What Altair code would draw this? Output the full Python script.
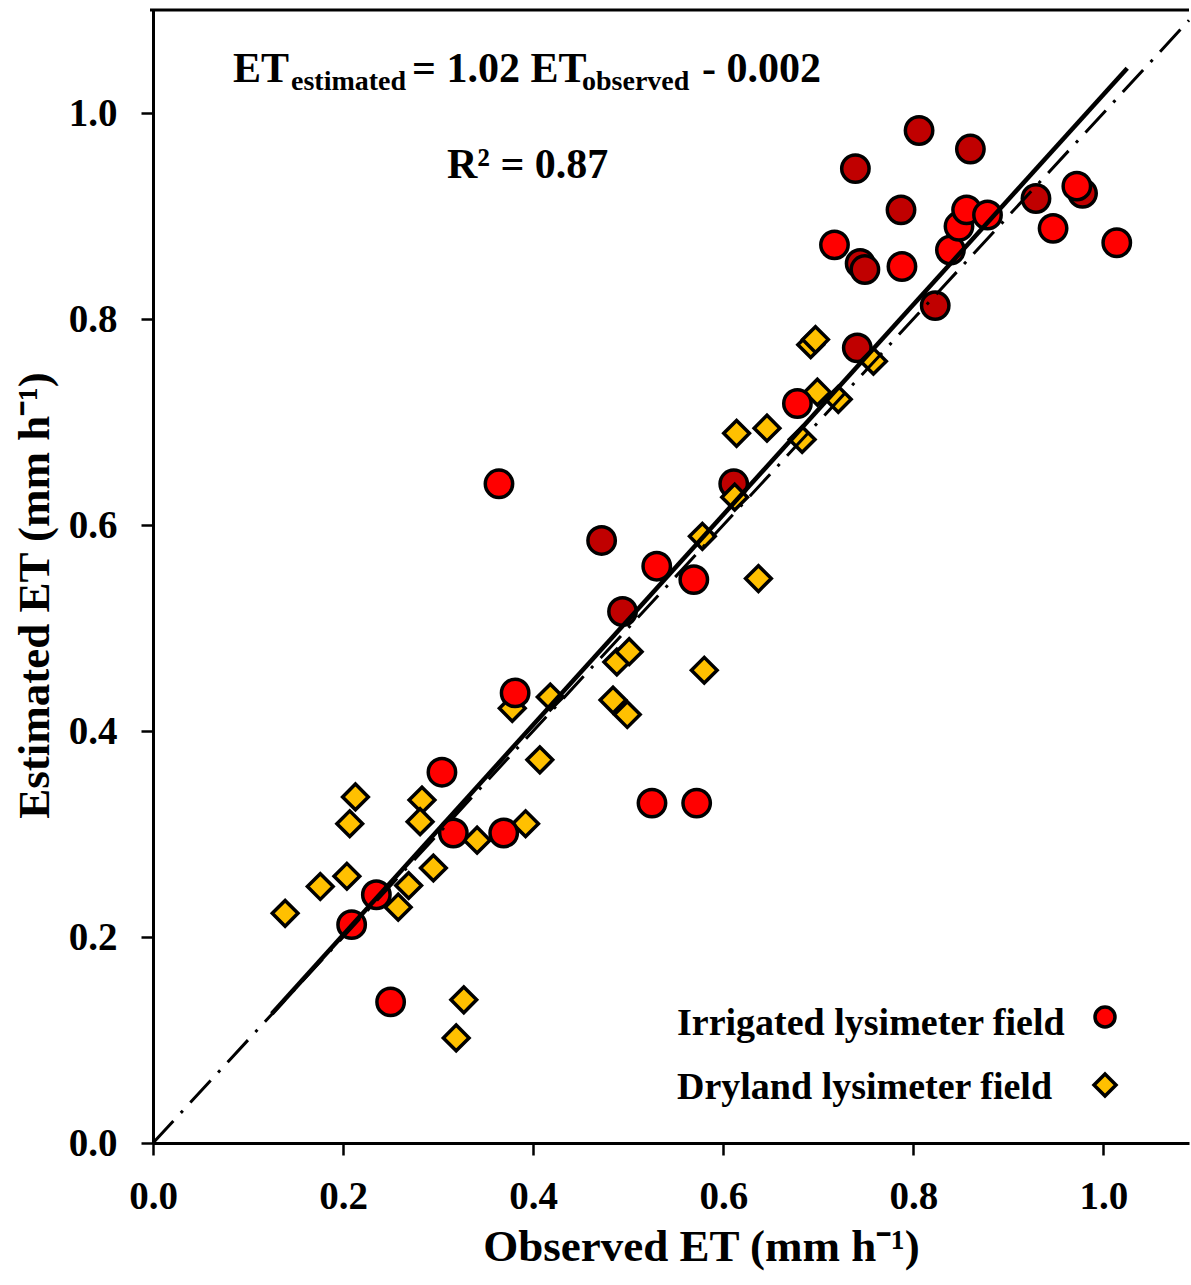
import altair as alt
import pandas as pd

# ---------------- data ----------------
irr_a_x = [0.364, 0.530, 0.569, 0.381, 0.304, 0.316, 0.369, 0.235, 0.209, 0.250, 0.525,
           0.572, 0.678, 0.717, 0.788, 0.839, 0.848, 0.856, 0.878, 0.947, 0.972, 1.014]
irr_a_y = [0.640, 0.560, 0.547, 0.437, 0.360, 0.301, 0.301, 0.241, 0.212, 0.137, 0.330,
           0.330, 0.718, 0.872, 0.851, 0.867, 0.890, 0.906, 0.901, 0.888, 0.929, 0.874]

irr_b_x = [0.472, 0.494, 0.611, 0.741, 0.823, 0.744, 0.749, 0.787, 0.739, 0.806, 0.860,
           0.929, 0.978]
irr_b_y = [0.585, 0.516, 0.640, 0.772, 0.813, 0.854, 0.848, 0.906, 0.946, 0.983, 0.965,
           0.917, 0.922]

dry_x = [0.692, 0.697, 0.758, 0.699, 0.721, 0.614, 0.646, 0.683, 0.612, 0.578, 0.637,
         0.488, 0.501, 0.580, 0.378, 0.418, 0.484, 0.499, 0.407, 0.392, 0.341, 0.213,
         0.207, 0.283, 0.281, 0.295, 0.204, 0.176, 0.269, 0.258, 0.139, 0.327, 0.319]
dry_y = [0.775, 0.780, 0.759, 0.729, 0.722, 0.689, 0.694, 0.683, 0.627, 0.589, 0.548,
         0.467, 0.477, 0.459, 0.422, 0.433, 0.430, 0.416, 0.372, 0.310, 0.294, 0.336,
         0.310, 0.333, 0.312, 0.267, 0.259, 0.249, 0.250, 0.229, 0.223, 0.139, 0.102]

fit_slope = 1.02
fit_intercept = -0.002
fit_x = [0.125, 1.025]
one_to_one_x = [0.0, 1.09]

tick_values = [0.0, 0.2, 0.4, 0.6, 0.8, 1.0]
series_names = ["Irrigated lysimeter field", "Dryland lysimeter field"]

# ---------------- layout ----------------
FONT = "Liberation Serif"
W, H = 1036, 1133
LEFT, TOP = 153, 10

df_a = pd.DataFrame({"x": irr_a_x, "y": irr_a_y})
df_b = pd.DataFrame({"x": irr_b_x, "y": irr_b_y})
df_d = pd.DataFrame({"x": dry_x, "y": dry_y})
df_fit = pd.DataFrame({"x": fit_x, "y": [fit_slope * v + fit_intercept for v in fit_x]})
df_one = pd.DataFrame({"x": one_to_one_x, "y": one_to_one_x})

xs = alt.Scale(domain=[0, 1.09], nice=False, zero=False)
ys = alt.Scale(domain=[0, 1.1], nice=False, zero=False)

common_axis = dict(
    values=tick_values, format=".1f", grid=False,
    labelFont=FONT, labelFontWeight="bold", labelFontSize=39, labelColor="black",
    titleFont=FONT, titleFontWeight="bold", titleFontSize=45, titleColor="black",
    tickSize=12, tickWidth=2.5, tickColor="black",
    domainColor="black", domainWidth=3, labelOverlap=False, labelFlush=False,
)
x_axis = alt.Axis(title="Observed ET (mm h⁻¹)", labelPadding=53, labelBaseline="alphabetic",
                  titleX=548, titleY=117, titleBaseline="alphabetic", titleAlign="center",
                  **common_axis)
y_axis = alt.Axis(title="Estimated ET (mm h⁻¹)", labelPadding=24,
                  titleX=-105, titleY=585, titleAngle=270, titleBaseline="alphabetic",
                  titleAlign="center", **common_axis)

X = alt.X("x:Q", scale=xs, axis=x_axis)
Y = alt.Y("y:Q", scale=ys, axis=y_axis)

def pts(df, shape, fill, size):
    return alt.Chart(df).mark_point(
        shape=shape, filled=True, fill=fill, stroke="black", strokeWidth=3.5,
        size=size, opacity=1
    ).encode(x=X, y=Y)

dark = pts(df_b, "circle", "#C00000", 750)
dry = pts(df_d, "diamond", "#FFC000", 660)
bright = pts(df_a, "circle", "#FF0000", 750)

one_line = alt.Chart(df_one).mark_line(
    color="black", strokeWidth=3, strokeDash=[30, 11, 3, 11]
).encode(x=X, y=Y)
fit_line = alt.Chart(df_fit).mark_line(color="black", strokeWidth=4.5).encode(x=X, y=Y)

top_rule = alt.Chart(pd.DataFrame({"k": [0]})).mark_rule(
    color="black", strokeWidth=3
).encode(x=alt.value(-3), x2=alt.value(W), y=alt.value(0))

def txt(s, px, py, size):
    return alt.Chart(pd.DataFrame({"t": [s]})).mark_text(
        font=FONT, fontWeight="bold", fontSize=size, align="left",
        baseline="alphabetic", color="black"
    ).encode(x=alt.value(px - LEFT), y=alt.value(py - TOP), text="t:N")

annotations = [
    txt("ET", 233, 82, 42),
    txt("estimated", 291, 90, 28),
    txt("= 1.02 ET", 412, 82, 42),
    txt("observed", 582, 90, 28),
    txt("- 0.002", 702, 82, 42),
    txt("R² = 0.87", 447, 178, 42),
    txt(series_names[0], 677, 1035, 38),
    txt(series_names[1], 677, 1099, 38),
]

def legend_symbol(shape, fill, py, size):
    return alt.Chart(pd.DataFrame({"k": [0]})).mark_point(
        shape=shape, filled=True, fill=fill, stroke="black", strokeWidth=3.5,
        size=size, opacity=1
    ).encode(x=alt.value(1105 - LEFT), y=alt.value(py - TOP))

leg1 = legend_symbol("circle", "#FF0000", 1017, 400)
leg2 = legend_symbol("diamond", "#FFC000", 1085, 484)

chart = alt.layer(
    dark, dry, bright, one_line, fit_line, top_rule, *annotations, leg1, leg2
).properties(
    width=W, height=H,
    autosize=alt.AutoSizeParams(type="none"),
    padding={"left": LEFT, "top": TOP, "right": 2, "bottom": 140},
).configure_view(stroke=None)

chart.save("out.html", embed_options={"renderer": "svg", "actions": False})
